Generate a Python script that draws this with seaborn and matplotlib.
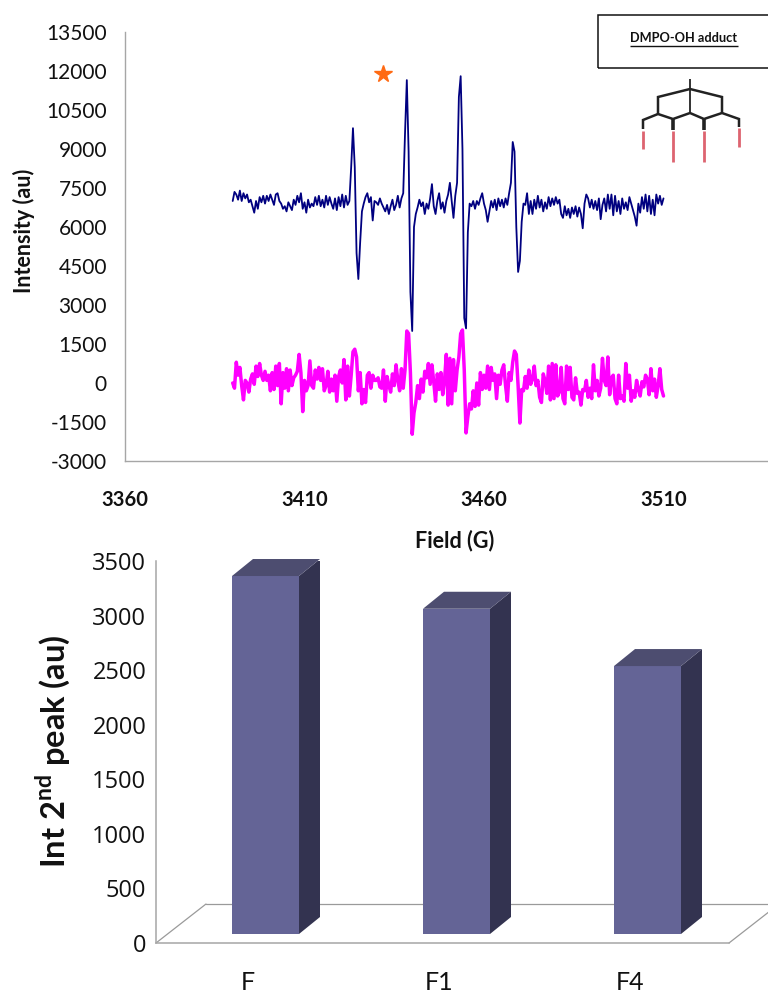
import numpy as np
import pandas as pd
import seaborn as sns
import matplotlib.pyplot as plt
from matplotlib.lines import Line2D
from matplotlib.patches import Polygon, Rectangle

# field sweep: 3390 to 3510 G, one reading every 0.5 G
field_start = 3390
field_step = 0.5

# DMPO-OH trace, ten G per row
dmpo_trace = [
    7000, 7350, 7250, 7050, 7400, 7000, 7300, 7100, 7250, 6950, 7050, 6800, 6550, 7000, 6700, 7150, 6950, 7200, 6900, 7200,
    7000, 7250, 7050, 6850, 7250, 7300, 7000, 6900, 6700, 6800, 6600, 6950, 6800, 6650, 7050, 6850, 7200, 6950, 7300, 6700,
    6950, 6550, 7050, 6750, 6900, 6800, 7150, 6850, 7200, 6800, 7050, 6750, 7200, 6850, 7150, 6900, 6700, 7100, 6650, 7150,
    6800, 7250, 6750, 7200, 6850, 7000, 8300, 9800, 8300, 5000, 4000, 5400, 6600, 6900, 7150, 7300, 6950, 7150, 6250, 7000,
    6950, 6850, 7100, 6900, 6750, 6600, 6850, 6500, 6800, 7050, 6650, 6850, 7200, 6750, 7100, 7300, 9600, 11650, 8900, 3500,
    2000, 6000, 6500, 6750, 7050, 6800, 6950, 6500, 6900, 6700, 7100, 7650, 6800, 6500, 7000, 7300, 6700, 6950, 6550, 7000,
    7250, 7700, 7000, 6350, 7200, 7700, 11000, 11800, 9000, 2500, 2100, 5800, 6900, 6800, 7000, 6700, 7000, 6850, 7100, 7300,
    6900, 6650, 6200, 6600, 7000, 6750, 7050, 6650, 7100, 6800, 7050, 6750, 7100, 6850, 7300, 7700, 9270, 8900, 6000, 4270,
    4700, 6200, 6900, 6850, 7300, 6500, 7000, 6500, 7050, 6700, 7200, 6750, 7050, 6600, 6950, 6700, 7150, 6800, 7100, 6850,
    7150, 6900, 7050, 6500, 6350, 6800, 6450, 6700, 6350, 6750, 6500, 6800, 6400, 6750, 6500, 5950, 6900, 7250, 7100, 6750,
    7050, 6700, 7000, 6650, 7100, 6300, 6850, 7100, 6600, 7250, 6700, 7250, 6450, 7200, 6600, 7000, 6500, 7100, 6700, 6950,
    6650, 7150, 6900, 6650, 6400, 6050, 6900, 6550, 7150, 6700, 7250, 6600, 7200, 6500, 7050, 6450, 7250, 6900, 7200, 6850,
    7100,
]

# lower trace
lower_trace = [
    0, -200, 800, 300, 600, -100, -650, 100, 0, -350, 150, 350, -50, 650, 250, 750, 300, 100, 450, 100,
    300, -300, 400, -250, 650, -100, 750, -800, 400, -200, 550, -300, 500, -100, 200, 300, 450, 1100, 400, -1100,
    100, -300, -100, 850, -100, -200, 500, 150, 600, 100, 550, -300, -100, 450, -350, 150, -300, 300, -700, 250,
    500, 0, 900, -650, 650, -500, 300, 1200, 1300, 1000, -300, 400, -800, -250, -750, 300, 400, -200, 300, 100,
    100, 200, -150, -200, 500, -700, 250, -100, -350, 350, -100, 700, 100, -300, 550, -200, 500, 2000, 1900, 400,
    -1970, -1150, -750, -100, -600, 150, -350, 450, 200, 750, -50, 700, 50, -700, 350, -250, 400, -450, 100, 1100,
    -850, 950, -800, 900, -300, 500, 1000, 1900, 2040, 500, -1920, -1300, -800, -1000, -300, -900, 0, -850, 400, -250,
    300, -200, 650, -250, 600, 100, 350, -600, 300, -50, 500, 700, -100, -700, 400, 100, 800, 1230, 1100, -100,
    -1540, -250, -300, 250, -200, 500, -50, 150, 650, -100, 100, -550, -750, 350, 100, -400, 650, -650, 750, -600,
    700, -500, -350, 600, -600, -800, 650, -250, 600, -550, -650, 200, -400, -350, -850, -250, -300, 100, -550, -200,
    -600, 700, -300, 100, -500, -200, 950, 100, -100, 1000, -450, 200, 300, -600, -800, 300, -600, -500, -700, 750,
    -200, 300, -700, -300, -550, 100, -250, -500, 50, -150, 300, 150, -450, 550, -300, 150, -550, -100, 550, -250,
    -500,
]

star_field = [3431.9]
star_intensity = [11880]

spectrum_yticks = [-3000, -1500, 0, 1500, 3000, 4500, 6000, 7500, 9000, 10500, 12000, 13500]
spectrum_xticks = [3360, 3410, 3460, 3510]

samples = ["F", "F1", "F4"]
second_peak = [3280, 2980, 2455]
bar_yticks = [0, 500, 1000, 1500, 2000, 2500, 3000, 3500]

W, H = 768, 992


def px_rect(left, top, right, bottom):
    return [left / W, 1 - bottom / H, (right - left) / W, (bottom - top) / H]


def px_line(fig, xs, ys, color="black", lw=1.0):
    # decorations are placed in picture pixels
    fig.add_artist(Line2D([x / W for x in xs], [1 - y / H for y in ys], color=color, lw=lw,
                          solid_capstyle="butt", solid_joinstyle="miter"))


sns.set_style("white")
plt.rcParams["font.family"] = ["Lato", "DejaVu Sans"]
plt.rcParams["mathtext.fontset"] = "custom"
plt.rcParams["mathtext.bf"] = "Lato:bold"
plt.rcParams["mathtext.rm"] = "Lato:bold"
plt.rcParams["axes.unicode_minus"] = False

assert len(dmpo_trace) == len(lower_trace) == 241
fields = field_start + field_step * np.arange(len(dmpo_trace))
spectra = pd.DataFrame({"field": fields, "dmpo": dmpo_trace, "lower": lower_trace})

fig = plt.figure(figsize=(W / 100, H / 100), dpi=100)

# upper panel: the spectra
ax = fig.add_axes(px_rect(125, 32, 768, 461))
sns.lineplot(data=spectra, x="field", y="lower", color="#ff00ff", lw=2.5, estimator=None, sort=False, ax=ax)
sns.lineplot(data=spectra, x="field", y="dmpo", color="#000080", lw=1.3, estimator=None, sort=False, ax=ax)
ax.plot(star_field, star_intensity, marker="*", ms=13, color="#ff6a13", mec="#ff6a13", ls="none")
ax.set_xlim(3360, 3360 + 643 / 3.59)
ax.set_ylim(-3000, 13500)
ax.set_xticks(spectrum_xticks)
ax.set_yticks(spectrum_yticks)
ax.tick_params(axis="y", length=0, labelsize=15, pad=13, labelcolor="#111111")
ax.tick_params(axis="x", length=0, labelsize=14.5, pad=21, labelcolor="#111111")
for label in ax.get_xticklabels():
    label.set_fontweight("bold")
ax.set_xlabel("")
ax.set_ylabel("")
for side in ["top", "right"]:
    ax.spines[side].set_visible(False)
for side in ["left", "bottom"]:
    ax.spines[side].set_color("#a6a6a6")
    ax.spines[side].set_linewidth(1.0)

fig.text(24 / W, 1 - 231 / H, "Intensity (au)", rotation=90, fontsize=15.5, fontweight="bold",
         ha="center", va="center", color="#111111")
fig.text(455 / W, 1 - 541 / H, "Field (G)", fontsize=15.5, fontweight="bold",
         ha="center", va="center", color="#111111")

# inset box and the adduct sketch
fig.add_artist(Rectangle((598 / W, 1 - 68 / H), 180 / W, 53 / H, fill=False, edgecolor="#111111", lw=1.1,
                         transform=fig.transFigure))
fig.text(684 / W, 1 - 38 / H, "DMPO-OH adduct", fontsize=9.2, fontweight="bold", ha="center", va="center",
         color="#111111")
px_line(fig, [630, 738], [45.5, 45.5], color="#111111", lw=1.0)

px_line(fig, [690, 690], [79, 113], color="#222222", lw=1.3)
px_line(fig, [658, 658, 690, 722, 722], [114, 97, 89, 97, 113], color="#222222", lw=1.8)
px_line(fig, [643, 643, 658, 673, 690, 704, 722, 739, 739],
        [129, 120, 114, 119, 113, 119, 113, 119, 127], color="#222222", lw=1.8)
px_line(fig, [673, 673], [119, 130], color="#222222", lw=2.6)
px_line(fig, [704, 704], [119, 130], color="#222222", lw=2.6)
for x, top, bottom in zip([643, 673, 704, 739], [131, 131, 131, 128], [149, 162, 162, 147]):
    px_line(fig, [x, x], [top, bottom], color="#dd6470", lw=2.0)

# lower panel: the pseudo 3D bars
bar_ax = fig.add_axes(px_rect(156, 561, 729, 943))
bars = pd.DataFrame({"sample": samples, "value": second_peak})
sns.barplot(data=bars, x="sample", y="value", color="#646496", saturation=1, width=67 / 191, ax=bar_ax, zorder=3)
bar_ax.set_xlim(-0.5, 2.5)
bar_ax.set_ylim(0, 3500)

shift_x = 14 / 191
base = 9 * 3500 / 382
depth_x = 21 / 191
depth_y = 17 * 3500 / 382
floor_x = 50 / 191
floor_y = 39 * 3500 / 382

for patch in bar_ax.patches:
    x0 = patch.get_x() + shift_x
    x1 = x0 + patch.get_width()
    height = patch.get_height()
    patch.set_x(x0)
    patch.set_y(base)
    patch.set_linewidth(0)
    top = base + height
    bar_ax.add_patch(Polygon([(x1, base), (x1 + depth_x, base + depth_y), (x1 + depth_x, top + depth_y), (x1, top)],
                             facecolor="#333350", edgecolor="none", zorder=3))
    bar_ax.add_patch(Polygon([(x0, top), (x1, top), (x1 + depth_x, top + depth_y), (x0 + depth_x, top + depth_y)],
                             facecolor="#4d4d70", edgecolor="none", zorder=3, clip_on=False))

floor_color = "#9a9a9a"
bar_ax.plot([-0.5, -0.5 + floor_x], [0, floor_y], color=floor_color, lw=0.9, zorder=1)
bar_ax.plot([-0.5 + floor_x, 2.5 + floor_x], [floor_y, floor_y], color=floor_color, lw=0.9, zorder=1, clip_on=False)
bar_ax.plot([2.5, 2.5 + floor_x], [0, floor_y], color=floor_color, lw=0.9, zorder=1, clip_on=False)

bar_ax.set_xticks([-0.5, 0.5, 1.5, 2.5])
bar_ax.set_xticklabels(["", "", "", ""])
bar_ax.set_xticks([-0.02, 0.98, 1.98], minor=True)
bar_ax.set_xticklabels(samples, minor=True, fontsize=18, color="#111111")
bar_ax.tick_params(axis="x", which="major", length=7, width=1.1, color="#a6a6a6")
bar_ax.tick_params(axis="x", which="minor", length=0, pad=20)
bar_ax.set_yticks(bar_yticks)
bar_ax.set_yticklabels([str(v) for v in bar_yticks], family="Open Sans", fontsize=17, color="#111111")
bar_ax.tick_params(axis="y", length=7, width=1.0, color="#a6a6a6", pad=0)
bar_ax.set_xlabel("")
bar_ax.set_ylabel("")
for side in ["top", "right"]:
    bar_ax.spines[side].set_visible(False)
for side in ["left", "bottom"]:
    bar_ax.spines[side].set_color("#a6a6a6")
    bar_ax.spines[side].set_linewidth(1.1)

fig.text(53 / W, 1 - 751 / H, r"Int 2$^{\mathbf{nd}}$ peak (au)", rotation=90, fontsize=23.5, fontweight="bold",
         ha="center", va="center", color="#111111")

fig.savefig("out.png", dpi=100)
